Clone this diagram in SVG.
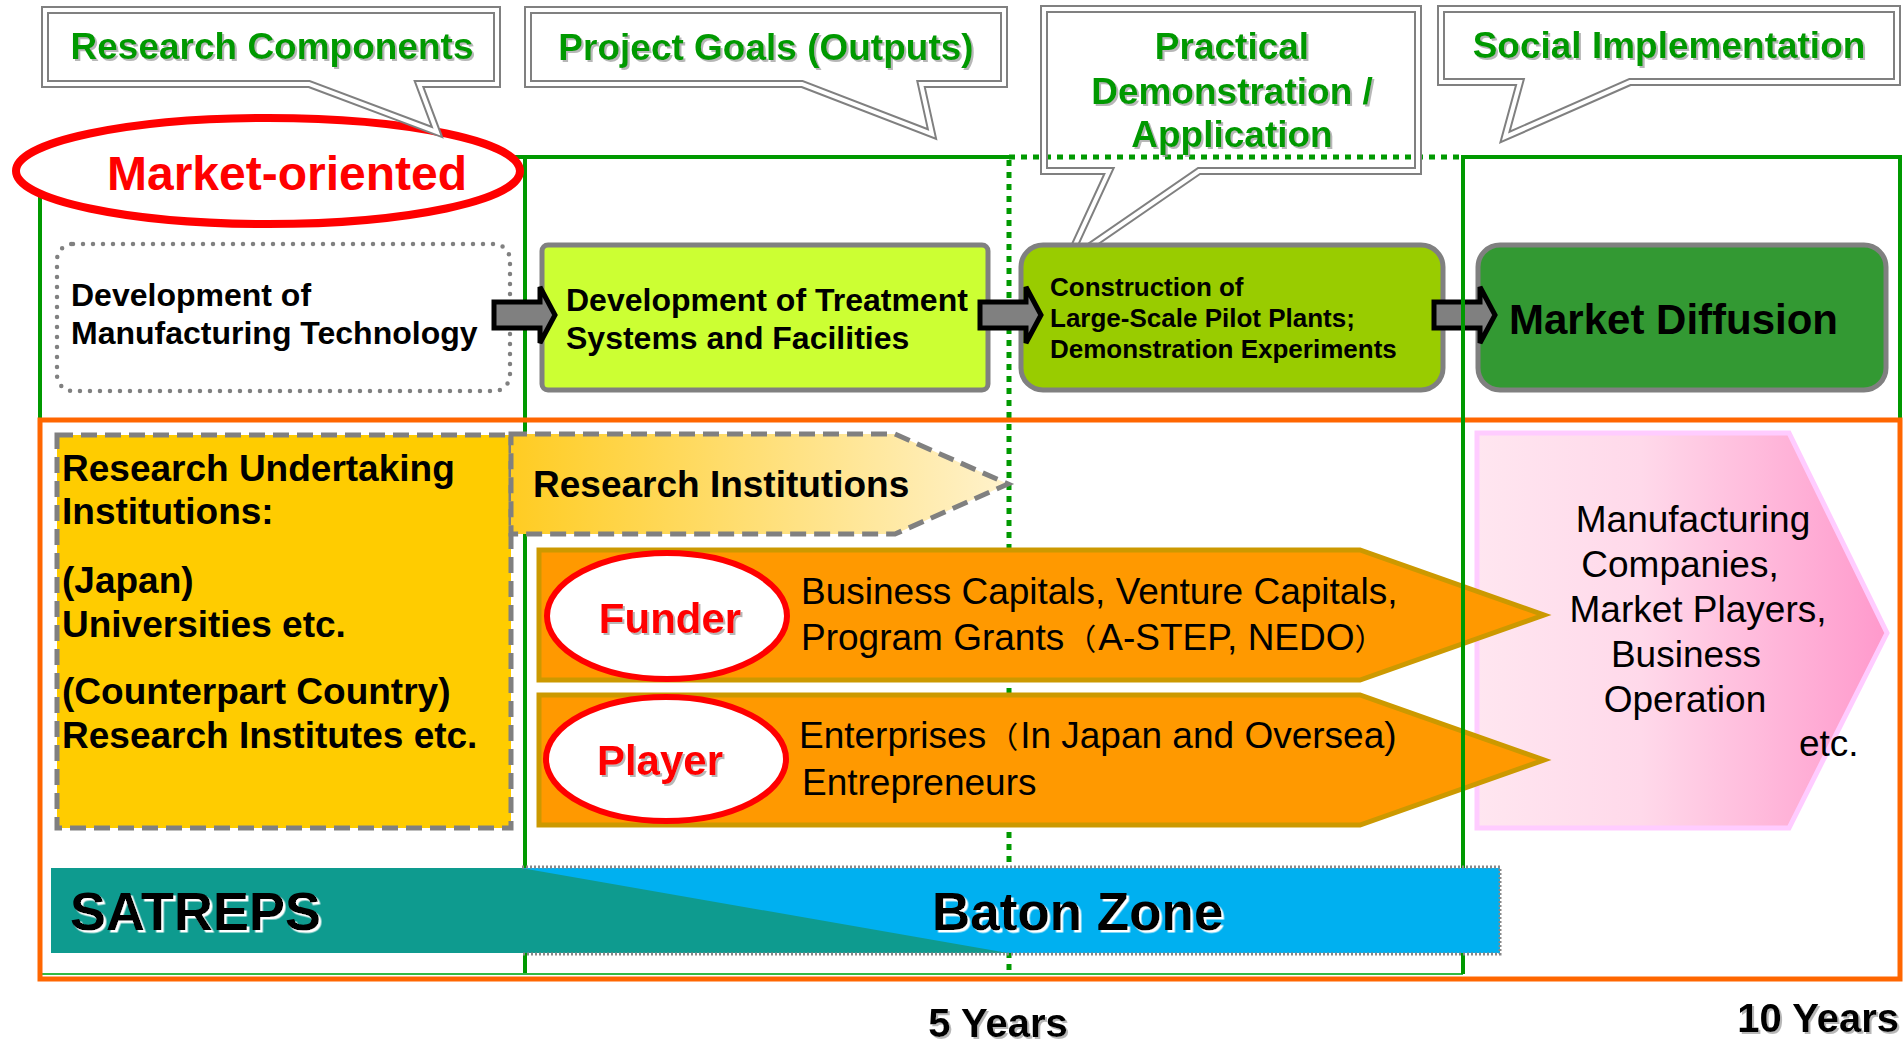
<svg xmlns="http://www.w3.org/2000/svg" width="1903" height="1043" viewBox="0 0 1903 1043">
<style>
text{font-family:"Liberation Sans",Arial,sans-serif;}
.b{font-weight:bold;}
.callout-out{fill:none;stroke:#808080;stroke-width:8;stroke-linejoin:miter;}
.callout-in{fill:none;stroke:#ffffff;stroke-width:4;stroke-linejoin:miter;}
.ct{font-weight:bold;font-size:37px;fill:#009900;text-anchor:middle;filter:url(#gs);}
.grn{stroke:#009900;stroke-width:4;fill:none;}
.grn-dot{stroke:#009900;stroke-width:5;fill:none;stroke-dasharray:6 6;}
.arrow{fill:#808080;stroke:#000;stroke-width:5;stroke-linejoin:miter;}
.rt{font-weight:bold;font-size:37px;fill:#000;}
.reg{font-size:37px;fill:#000;}
.pink{font-size:37px;fill:#000;text-anchor:middle;}
.cjk{font-family:"Noto Sans CJK JP",sans-serif;font-size:30px;}
</style>
<defs>
<filter id="gs" x="-5%" y="-20%" width="110%" height="140%">
<feDropShadow dx="2" dy="2" stdDeviation="0.6" flood-color="#999999" flood-opacity="0.7"/>
</filter>
<filter id="ws" x="-5%" y="-20%" width="110%" height="140%">
<feDropShadow dx="2.5" dy="2.5" stdDeviation="0.3" flood-color="#ffffff" flood-opacity="1"/>
</filter>
<linearGradient id="gRI" x1="0" y1="0" x2="1" y2="0">
<stop offset="0" stop-color="#ffcc22"/>
<stop offset="1" stop-color="#fff2cc"/>
</linearGradient>
<linearGradient id="gPink" x1="0" y1="0" x2="1" y2="0">
<stop offset="0" stop-color="#ffe6f0"/>
<stop offset="0.4" stop-color="#ffd9ea"/>
<stop offset="1" stop-color="#ff99cc"/>
</linearGradient>
<path id="blockArrow" d="M0,-13 H46 V-28 L61,0 L46,28 V13 H0 Z"/>
</defs>

<rect x="0" y="0" width="1903" height="1043" fill="#ffffff"/>

<!-- Frames -->
<g id="frames">
<rect x="40" y="157" width="485" height="263" class="grn"/>
<line x1="525" y1="157" x2="1009" y2="157" class="grn"/>
<line x1="1009" y1="157" x2="1463" y2="157" class="grn-dot"/>
<rect x="1463" y="157" width="437" height="263" class="grn"/>
<line x1="525" y1="157" x2="525" y2="974" class="grn"/>
<line x1="1009" y1="160" x2="1009" y2="974" class="grn-dot"/>
<line x1="40" y1="974" x2="1463" y2="974" stroke="#33bb44" stroke-width="2"/>
<rect x="40" y="420" width="1860" height="559" fill="none" stroke="#ff6600" stroke-width="5"/>
</g>

<!-- Market-oriented -->
<g id="market-oriented">
<ellipse cx="268" cy="171" rx="252" ry="53" fill="#ffffff" stroke="#ff0000" stroke-width="8"/>
<text x="287" y="190" class="b" font-size="48" fill="#ff0000" text-anchor="middle">Market-oriented</text>
</g>

<!-- Callouts -->
<g id="callout-research-components">
<path class="callout-out" d="M45,10 H497 V84 H419 L437,132 L309,84 H45 Z"/>
<path class="callout-in" d="M45,10 H497 V84 H419 L437,132 L309,84 H45 Z"/>
<text x="272" y="59" class="ct">Research Components</text>
</g>
<g id="callout-project-goals">
<path class="callout-out" d="M528,10 H1004 V84 H921 L932,134 L802,84 H528 Z"/>
<path class="callout-in" d="M528,10 H1004 V84 H921 L932,134 L802,84 H528 Z"/>
<text x="766" y="60" class="ct">Project Goals (Outputs)</text>
</g>
<g id="callout-practical">
<path class="callout-out" d="M1044,9 H1418 V171 H1199 L1067,262 L1109,171 H1044 Z"/>
<path class="callout-in" d="M1044,9 H1418 V171 H1199 L1067,262 L1109,171 H1044 Z"/>
<text x="1232" y="59" class="ct">Practical</text>
<text x="1232" y="104" class="ct">Demonstration /</text>
<text x="1232" y="147" class="ct">Application</text>
</g>
<g id="callout-social">
<path class="callout-out" d="M1441,9 H1897 V82 H1630 L1505,137 L1520,82 H1441 Z"/>
<path class="callout-in" d="M1441,9 H1897 V82 H1630 L1505,137 L1520,82 H1441 Z"/>
<text x="1669" y="58" class="ct">Social Implementation</text>
</g>

<!-- Top row nodes -->
<g id="node-manufacturing-tech">
<rect x="57" y="244" width="453" height="147" rx="16" fill="#ffffff" stroke="#808080" stroke-width="4.5" stroke-dasharray="0 10" stroke-linecap="round"/>
<text x="71" y="306" class="b" font-size="32">Development of</text>
<text x="71" y="344" class="b" font-size="32">Manufacturing Technology</text>
</g>
<g id="node-treatment">
<rect x="542" y="245" width="446" height="145" rx="6" fill="#ccff33" stroke="#808080" stroke-width="5"/>
<text x="566" y="311" class="b" font-size="32">Development of Treatment</text>
<text x="566" y="349" class="b" font-size="32">Systems and Facilities</text>
</g>
<g id="node-construction">
<rect x="1021" y="245" width="422" height="145" rx="22" fill="#99cc00" stroke="#808080" stroke-width="5"/>
<text x="1050" y="296" class="b" font-size="26">Construction of</text>
<text x="1050" y="327" class="b" font-size="26">Large-Scale Pilot Plants;</text>
<text x="1050" y="358" class="b" font-size="26">Demonstration Experiments</text>
</g>
<g id="node-market-diffusion">
<rect x="1478" y="245" width="408" height="145" rx="22" fill="#339933" stroke="#808080" stroke-width="5"/>
<text x="1509" y="334" class="b" font-size="42">Market Diffusion</text>
</g>

<!-- Connectors -->
<g id="connectors">
<use href="#blockArrow" class="arrow" transform="translate(494,315)"/>
<use href="#blockArrow" class="arrow" transform="translate(980,315)"/>
<use href="#blockArrow" class="arrow" transform="translate(1434,315)"/>
</g>

<!-- Lower area -->
<g id="node-research-undertaking">
<rect x="57" y="435" width="454" height="393" fill="#ffcc00" stroke="#808080" stroke-width="5" stroke-dasharray="16 8"/>
<text x="62" y="481" class="rt">Research Undertaking</text>
<text x="62" y="524" class="rt">Institutions:</text>
<text x="62" y="593" class="rt">(Japan)</text>
<text x="62" y="637" class="rt">Universities etc.</text>
<text x="62" y="704" class="rt">(Counterpart Country)</text>
<text x="62" y="748" class="rt">Research Institutes etc.</text>
</g>
<g id="node-research-institutions">
<path d="M511,434 H895 L1008,484 L895,534 H511 Z" fill="url(#gRI)" stroke="#808080" stroke-width="5" stroke-dasharray="16 8"/>
<text x="533" y="497" class="b" font-size="37">Research Institutions</text>
</g>
<g id="node-manufacturing-companies">
<path d="M1477,433 H1789 L1887,633 L1789,828 H1477 Z" fill="url(#gPink)" stroke="#ffccff" stroke-width="5"/>
<text x="1693" y="532" class="pink">Manufacturing</text>
<text x="1680" y="577" class="pink">Companies,</text>
<text x="1698" y="622" class="pink">Market Players,</text>
<text x="1686" y="667" class="pink">Business</text>
<text x="1685" y="712" class="pink">Operation</text>
<text x="1799" y="756" class="reg">etc.</text>
</g>
<g id="node-funder">
<path d="M539,550 H1360 L1544,615 L1360,680 H539 Z" fill="#ff9900" stroke="#cc9900" stroke-width="5"/>
<ellipse cx="667" cy="616" rx="120" ry="63" fill="#ffffff" stroke="#ff0000" stroke-width="6"/>
<text x="670" y="633" class="b" font-size="42" fill="#ff0000" text-anchor="middle" filter="url(#gs)">Funder</text>
<text x="801" y="604" class="reg">Business Capitals, Venture Capitals,</text>
<text x="801" y="650" class="reg">Program Grants<tspan class="cjk" dx="2">（</tspan><tspan dx="2">A-STEP, NEDO</tspan><tspan class="cjk">）</tspan></text>
</g>
<g id="node-player">
<path d="M539,695 H1360 L1544,760 L1360,825 H539 Z" fill="#ff9900" stroke="#cc9900" stroke-width="5"/>
<ellipse cx="666" cy="759" rx="120" ry="62" fill="#ffffff" stroke="#ff0000" stroke-width="6"/>
<text x="660" y="775" class="b" font-size="42" fill="#ff0000" text-anchor="middle" filter="url(#gs)">Player</text>
<text x="799" y="748" class="reg">Enterprises<tspan class="cjk" dx="2">（</tspan><tspan dx="2">In Japan and Oversea)</tspan></text>
<text x="802" y="795" class="reg">Entrepreneurs</text>
</g>
<line x1="1463" y1="157" x2="1463" y2="974" class="grn"/>

<!-- SATREPS / Baton Zone -->
<g id="node-baton">
<rect x="522" y="868" width="978" height="85" fill="#00b0f0"/>
<rect x="51" y="868" width="472" height="85" fill="#0e9b8f"/>
<polygon points="521,868 1008,953 521,953" fill="#0e9b8f"/>
<path d="M522,867 H1500 V954 H522" fill="none" stroke="#888888" stroke-width="3" stroke-dasharray="2 2"/>
<text x="70" y="930" class="b" font-size="54" filter="url(#ws)">SATREPS</text>
<text x="932" y="930" class="b" font-size="53" filter="url(#ws)">Baton Zone</text>
</g>

<g id="timeline">
<text x="998" y="1037" class="b" font-size="40" text-anchor="middle" filter="url(#gs)">5 Years</text>
<text x="1899" y="1032" class="b" font-size="40" text-anchor="end" filter="url(#gs)">10 Years</text>
</g>
</svg>
